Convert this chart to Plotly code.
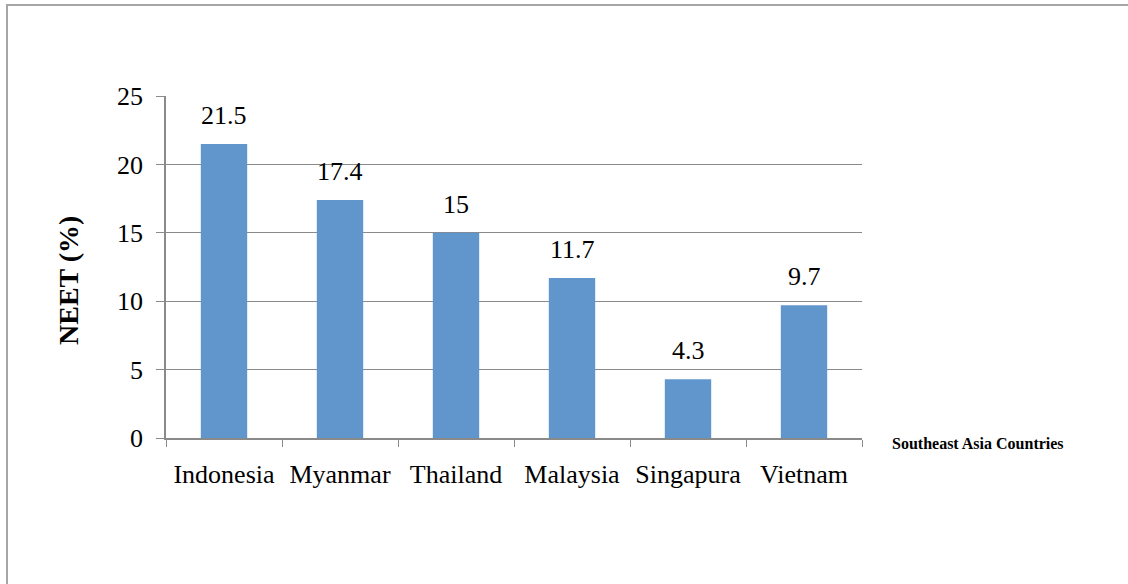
import plotly.graph_objects as go

countries = ["Indonesia", "Myanmar", "Thailand", "Malaysia", "Singapura", "Vietnam"]
neet = [21.5, 17.4, 15, 11.7, 4.3, 9.7]
label_text = ["21.5", "17.4", "15", "11.7", "4.3", "9.7"]
y_ticks = [0, 5, 10, 15, 20, 25]

L, R, T, B = 166, 862, 96, 438
W, H = 1128, 584
pw, ph = R - L, B - T

def px_x(x):
    return (x - L) / pw

def px_y(y):
    return (B - y) / ph

serif = "Liberation Serif"
grid = "#8A8A8A"

fig = go.Figure(go.Bar(
    x=countries, y=neet,
    marker=dict(color="#6096CB", line=dict(width=0)),
    width=0.4,
    hoverinfo="skip",
))

for c, v, t in zip(countries, neet, label_text):
    fig.add_annotation(x=c, y=v, text=t, showarrow=False, xref="x", yref="y",
                       yanchor="bottom", yshift=12,
                       font=dict(family=serif, size=26, color="#000000"))

fig.add_annotation(x=px_x(978), y=px_y(443), xref="paper", yref="paper",
                   xanchor="center", yanchor="middle",
                   text="<b>Southeast Asia Countries</b>", showarrow=False,
                   font=dict(family="Liberation Serif", size=16, color="#000000"))

fig.add_annotation(x=px_x(68), y=px_y(281), xref="paper", yref="paper",
                   xanchor="center", yanchor="middle",
                   text="<b>NEET (%)</b>", textangle=-90, showarrow=False,
                   font=dict(family="Liberation Serif", size=28, color="#000000"))

fig.add_shape(type="rect", xref="paper", yref="paper",
              x0=px_x(7), x1=px_x(1135), y0=px_y(590), y1=px_y(5),
              line=dict(color="#A6A6A6", width=2), layer="below")

fig.update_layout(
    width=W, height=H,
    margin=dict(l=L, r=W - R, t=T, b=H - B, pad=0),
    paper_bgcolor="white", plot_bgcolor="white",
    showlegend=False,
    xaxis=dict(
        tickson="boundaries", ticks="outside", ticklen=7, tickcolor=grid,
        showline=True, linecolor=grid, linewidth=1.5,
        showgrid=False, tickangle=0,
        tickfont=dict(family=serif, size=26, color="#000000"),
        ticklabelstandoff=12,
        range=[-0.5, 5.5],
    ),
    yaxis=dict(
        range=[0, 25], tickvals=y_ticks, ticks="outside", ticklen=8, tickcolor=grid,
        showline=True, linecolor=grid, linewidth=1.5,
        showgrid=True, gridcolor=grid, gridwidth=1.4,
        zeroline=False,
        tickfont=dict(family=serif, size=26, color="#000000"),
        ticklabelstandoff=8,
    ),
)

fig.write_html("out.html", config={"displayModeBar": False},
               post_script="document.body.style.margin='0';")
